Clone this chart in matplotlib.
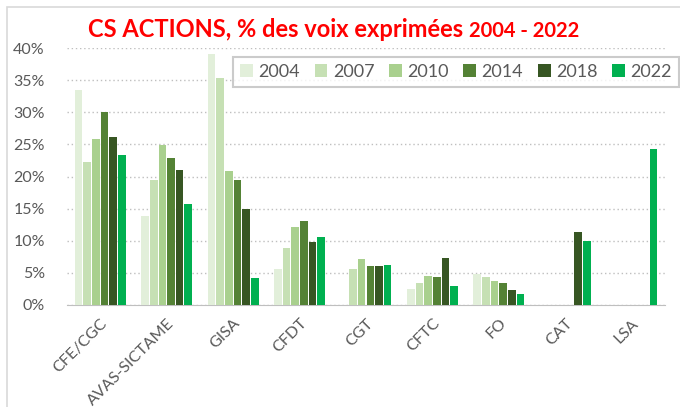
import matplotlib
matplotlib.use('Agg')
import matplotlib.pyplot as plt
import numpy as np
from matplotlib.patches import Rectangle

plt.rcParams['font.family'] = ['Lato', 'DejaVu Sans']

# données
syndicats = ['CFE/CGC', 'AVAS-SICTAME', 'GISA', 'CFDT', 'CGT', 'CFTC', 'FO', 'CAT', 'LSA']
annees = ['2004', '2007', '2010', '2014', '2018', '2022']
v2004 = [33.5, 13.9, 39.1, 5.6, 0, 2.5, 4.9, 0, 0]
v2007 = [22.2, 19.5, 35.4, 8.8, 5.6, 3.4, 4.3, 0, 0]
v2010 = [25.9, 24.9, 20.9, 12.2, 7.2, 4.5, 3.7, 0, 0]
v2014 = [30.1, 22.9, 19.5, 13.1, 6.0, 4.3, 3.4, 0, 0]
v2018 = [26.2, 21.0, 15.0, 9.8, 6.0, 7.3, 2.3, 11.4, 0]
v2022 = [23.4, 15.7, 4.2, 10.6, 6.2, 2.9, 1.7, 10.0, 24.3]
couleurs = ['#E2EFDA', '#C6E0B4', '#A9D08E', '#548235', '#375623', '#00B050']

series = [v2004, v2007, v2010, v2014, v2018, v2022]

fig = plt.figure(figsize=(6.8, 4.07), dpi=100)
ax = fig.add_axes([67/680, 102/407, 598/680, 257/407])

x = np.arange(len(syndicats))
larg = 0.78 / 6
for i, s in enumerate(series):
    ax.bar(x + (i - 2.5) * larg, s, width=larg * 0.88, color=couleurs[i],
           label=annees[i], zorder=3)

ax.set_xlim(-0.5, len(syndicats) - 0.5)
ax.set_ylim(0, 40)
ax.set_yticks(np.arange(0, 41, 5))
ax.set_yticklabels([f'{t}%' for t in range(0, 41, 5)])
ax.yaxis.grid(True, linestyle=(0, (1, 2)), color='#BFBFBF', linewidth=1, zorder=0)
for sp in ['top', 'right', 'left']:
    ax.spines[sp].set_visible(False)
ax.spines['bottom'].set_color('#BFBFBF')
ax.tick_params(axis='both', length=0, colors='#595959', labelsize=11.5)
ax.tick_params(axis='y', pad=16)
ax.set_xticks(x)
ax.set_xticklabels(syndicats, rotation=45, ha='right', rotation_mode='anchor')
ax.tick_params(axis='x', pad=8)

leg = fig.legend(loc='lower left', ncol=6, bbox_to_anchor=(233/680, 1 - 87/407, 446/680, 36/407),
                 mode='expand', frameon=True, fancybox=False, fontsize=13,
                 handlelength=0.7, handleheight=0.7, handletextpad=0.3, borderaxespad=0,
                 labelcolor='#595959', columnspacing=0.8)
leg.get_frame().set_edgecolor('#BFBFBF')
leg.get_frame().set_linewidth(1.5)

# cadre
fig.patches.append(Rectangle((7/680, -0.1), 1, 1 - 7/407 + 0.1, transform=fig.transFigure,
                             fill=False, edgecolor='#D9D9D9', linewidth=1.2))

# titre
t1 = fig.text(88/680, 1 - 37/407, 'CS ACTIONS, % des voix exprimées ', color='red',
              fontsize=17, fontweight='bold', va='baseline')
fig.canvas.draw()
bb = t1.get_window_extent()
fig.text(bb.x1 / 680, 1 - 37/407, '2004 - 2022', color='red', fontsize=14.5,
         fontweight='bold', va='baseline')

fig.savefig('out.png', dpi=100)
